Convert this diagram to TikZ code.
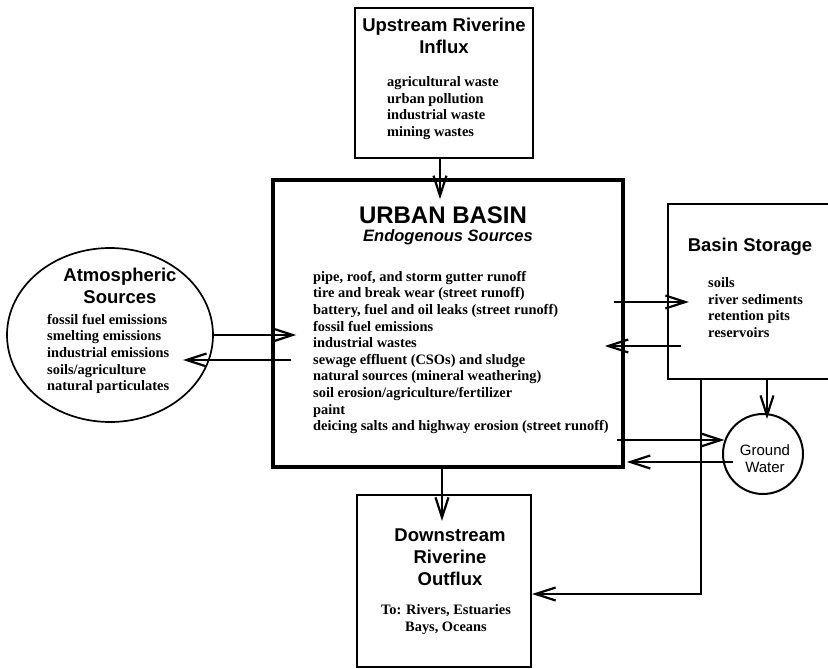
\documentclass[tikz,border=0pt]{standalone}
\usepackage{fontspec}
\setmainfont{Liberation Serif}
\setsansfont{Liberation Sans}
\usetikzlibrary{calc,arrows.meta,shapes.geometric}

\begin{document}
\begin{tikzpicture}[x=1pt, y=-1pt,
		box/.style={draw, line width=2.2pt, inner sep=0pt},
		head/.style={font=\sffamily\bfseries\fontsize{18.5}{22}\selectfont, align=center},
		items/.style={font=\bfseries\fontsize{14.4}{16.6}\selectfont, align=left, anchor=west, inner sep=0pt},
		arr/.style={line width=2.2pt, -{Straight Barb[length=20pt,width=13pt]}}]
		\useasboundingbox (0,0) rectangle (828,669);
		\clip (0,0) rectangle (828,669);
		% boxes
		\node[box, minimum width=178pt, minimum height=150pt] (up) at (444,83) {};
		\node[box, line width=3.5pt, minimum width=350pt, minimum height=287pt] (urban) at (448,323.5) {};
		\node[box, minimum width=172pt, minimum height=175pt] (storage) at (754,291.5) {};
		\node[box, minimum width=174pt, minimum height=172pt] (down) at (444,581) {};
		\node[draw, ellipse, line width=1.7pt, minimum width=206pt, minimum height=174pt] (atm) at (110,335) {};
		\node[draw, circle, line width=2pt, minimum size=80pt, inner sep=0pt] (gw) at (763,454) {};
		% texts
		\node[head] (uptitle) at (444,36) {Upstream Riverine\\Influx};
		\node[items] (uplist) at (387,108) {agricultural waste\\urban pollution\\industrial waste\\mining wastes};
		\node[font=\sffamily\bfseries\fontsize{24}{28}\selectfont] (urbantitle) at (443,215) {URBAN BASIN};
		\node[font=\sffamily\bfseries\itshape\fontsize{16.5}{20}\selectfont] (urbansub) at (448,237) {Endogenous Sources};
		\node[items] (urbanlist) at (313,352.5) {pipe, roof, and storm gutter runoff\\tire and break wear (street runoff)\\battery, fuel and oil leaks (street runoff)\\fossil fuel emissions\\industrial wastes\\sewage effluent (CSOs) and sludge\\natural sources (mineral weathering)\\soil erosion/agriculture/fertilizer\\paint\\deicing salts and highway erosion (street runoff)};
		\node[head] (atmtitle) at (120,286) {Atmospheric\\Sources};
		\node[items] (atmlist) at (47,354) {fossil fuel emissions\\smelting emissions\\industrial emissions\\soils/agriculture\\natural particulates};
		\node[head] (storetitle) at (750,247) {Basin Storage};
		\node[items] (storelist) at (708,307.5) {soils\\river sediments\\retention pits\\reservoirs};
		\node[head] (downtitle) at (450,557) {Downstream\\Riverine\\Outflux};
		\node[items, align=center, anchor=center] (downlist) at (446,619.5) {To: Rivers, Estuaries\\Bays, Oceans};
		\node[font=\sffamily\fontsize{15}{17}\selectfont, align=center] (gwtext) at (765,459) {Ground\\Water};
		% flows
		\draw[arr] ($(up.south)+(-4,0)$) -- ($(urban.north)+(-8,21)$);
		\draw[arr] (atm.east) -- ($(atm.east -| urban.west)+(25,0)$);
		\draw[arr] ($(urban.west)+(20,36.5)$) -- ($(atm.center)+(73,25)$);
		\draw[arr] ($(urban.east)+(-11,-21.5)$) -- ($(storage.west)+(22,10.5)$);
		\draw[arr] ($(storage.west)+(14,54.5)$) -- ($(urban.east)+(-20,22.5)$);
		\draw[arr] ($(storage.south)+(13,0)$) -- ($(gw.north)+(4,6)$);
		\draw[arr] ($(gw.160 -| urban.east)+(-8,0)$) -- (gw.160);
		\draw[arr] ($(gw.center)+(-30,8)$) -- ($(gw.center -| urban.east)+(2,8)$);
		\draw[arr] ($(storage.south west)+(34,0)$) |- ($(down.east)+(0,13)$);
		\draw[arr] ($(urban.south)+(-6,0)$) -- ($(down.north)+(-2,27)$);
	\end{tikzpicture}
\end{document}
